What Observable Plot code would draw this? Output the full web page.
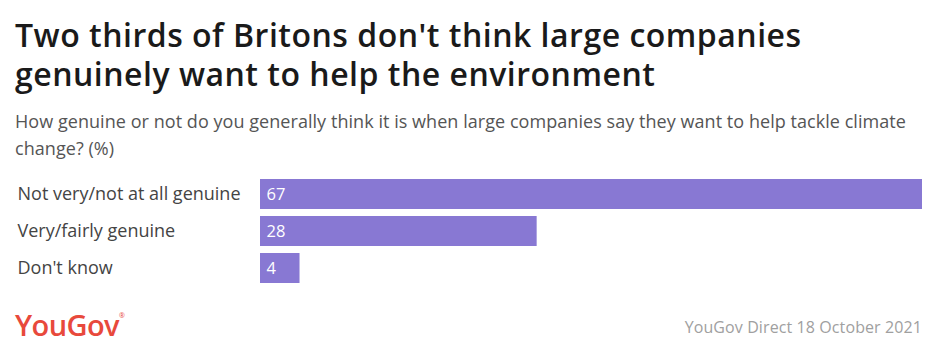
<!DOCTYPE html>
<html>
<head>
<meta charset="utf-8">
<script src="https://cdn.jsdelivr.net/npm/d3@7"></script>
<script src="https://cdn.jsdelivr.net/npm/@observablehq/plot@0.6"></script>
<style>
  html, body { margin: 0; padding: 0; background: #fff; }
  body { width: 940px; height: 356px; position: relative; overflow: hidden; font-family: "Open Sans", Lato, sans-serif; }
  .title { position: absolute; left: 15px; font-size: 32px; font-weight: 600; line-height: 36px; letter-spacing: 0.5px; color: #1a1a1a; white-space: nowrap; }
  .t1 { top: 17px; }
  .t2 { top: 56px; }
  .subtitle { position: absolute; left: 15px; font-size: 18px; line-height: 22px; letter-spacing: 0.05px; color: #555; white-space: nowrap; }
  .s1 { top: 110px; }
  .s2 { top: 137px; }
  #chart { position: absolute; left: 0; top: 170px; }
  .logo { position: absolute; left: 15px; top: 305px; font-size: 29px; font-weight: 600; color: #e8493c; letter-spacing: -0.6px; }
  .logo sup { font-size: 7px; vertical-align: top; position: relative; top: 6px; font-weight: 400; }
  .source { position: absolute; right: 18px; top: 316px; font-size: 16px; letter-spacing: 0.1px; color: #a0a0a0; }
</style>
</head>
<body>
<div class="title t1">Two thirds of Britons don't think large companies</div>
<div class="title t2">genuinely want to help the environment</div>
<div class="subtitle s1">How genuine or not do you generally think it is when large companies say they want to help tackle climate</div>
<div class="subtitle s2">change? (%)</div>
<div id="chart"></div>
<div class="logo">YouGov<sup>®</sup></div>
<div class="source">YouGov Direct 18 October 2021</div>
<script>
const categories = ["Not very/not at all genuine", "Very/fairly genuine", "Don't know"];
const values = [67, 28, 4];

const data = categories.map((c, i) => ({category: c, value: values[i]}));

const chart = Plot.plot({
  width: 940,
  height: 121,
  marginLeft: 260,
  marginRight: 18,
  marginTop: 8,
  marginBottom: 8,
  x: {domain: [0, 67], axis: null},
  y: {domain: categories, axis: null, paddingInner: 0.2, paddingOuter: 0},
  style: {fontFamily: "'Open Sans', Lato, sans-serif", background: "transparent"},
  marks: [
    Plot.barX(data, {y: "category", x: "value", fill: "#8878d3"}),
    Plot.text(data, {y: "category", text: "category", frameAnchor: "left", textAnchor: "start", dx: -243, fontSize: 18, fill: "#444", style: "letter-spacing:0.15px"}),
    Plot.text(data, {y: "category", x: 0, text: d => String(d.value), textAnchor: "start", dx: 6, fontSize: 16.5, fill: "#fff"})
  ]
});
document.getElementById("chart").appendChild(chart);
</script>
</body>
</html>
